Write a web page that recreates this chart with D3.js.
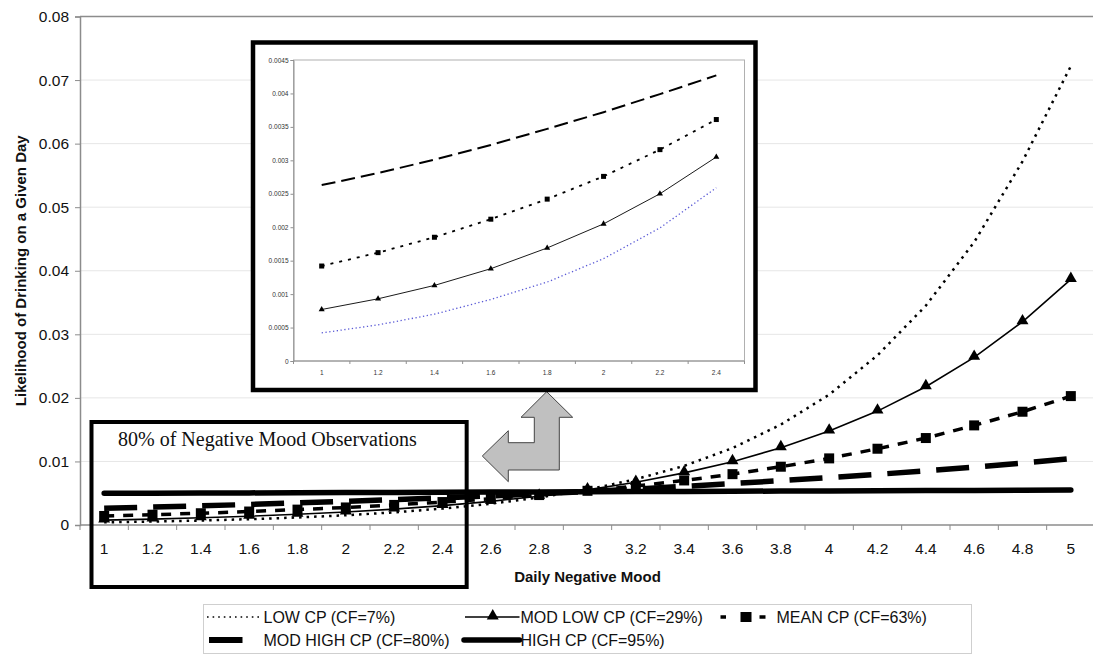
<!DOCTYPE html>
<html>
<head>
<meta charset="utf-8">
<script src="https://cdn.jsdelivr.net/npm/d3@7"></script>
<style>
  html, body { margin: 0; padding: 0; background: #fff; }
  svg { display: block; font-family: "Liberation Sans", Arial, sans-serif; }
</style>
</head>
<body>
<svg id="chart" width="1093" height="654"></svg>
<script>
// ---------------- DATA ----------------
const categories = ["1","1.2","1.4","1.6","1.8","2","2.2","2.4","2.6","2.8","3","3.2","3.4","3.6","3.8","4","4.2","4.4","4.6","4.8","5"];
const lowCP     = [0.00042,0.00054,0.00070,0.00092,0.00118,0.00153,0.00199,0.00259,0.00335,0.00432,0.00557,0.00720,0.00930,0.01210,0.01580,0.02050,0.02670,0.03450,0.04450,0.05720,0.07220];
const modLowCP  = [0.00077,0.00093,0.00113,0.00138,0.00169,0.00205,0.00250,0.00305,0.00372,0.00453,0.00552,0.00672,0.00820,0.00996,0.01215,0.01478,0.01792,0.02175,0.02637,0.03197,0.03863];
const meanCP    = [0.00142,0.00162,0.00185,0.00212,0.00242,0.00276,0.00316,0.00361,0.00412,0.00471,0.00538,0.00614,0.00701,0.00800,0.00917,0.01048,0.01200,0.01368,0.01567,0.01782,0.02028];
const modHighCP = [0.00263,0.00281,0.00301,0.00323,0.00347,0.00372,0.00399,0.00427,0.00458,0.00490,0.00527,0.00566,0.00608,0.00652,0.00698,0.00746,0.00797,0.00852,0.00910,0.00975,0.01045];
const highCP    = [0.00498,0.00500,0.00503,0.00505,0.00508,0.00510,0.00513,0.00515,0.00518,0.00520,0.00523,0.00526,0.00528,0.00531,0.00534,0.00536,0.00539,0.00542,0.00544,0.00547,0.00550];
const yTicks = [0,0.01,0.02,0.03,0.04,0.05,0.06,0.07,0.08];
const yTickLabels = ["0","0.01","0.02","0.03","0.04","0.05","0.06","0.07","0.08"];
const insetCount = 8; // inset shows categories 1 .. 2.4
const insetTicks = [0,0.0005,0.001,0.0015,0.002,0.0025,0.003,0.0035,0.004,0.0045];
const insetTickLabels = ["0","0.0005","0.001","0.0015","0.002","0.0025","0.003","0.0035","0.004","0.0045"];
const seriesNames = ["LOW CP (CF=7%)","MOD LOW CP (CF=29%)","MEAN CP (CF=63%)","MOD HIGH CP (CF=80%)","HIGH CP (CF=95%)"];
const xTitle = "Daily Negative Mood";
const yTitle = "Likelihood of Drinking on a Given Day";
const annotationText = "80% of Negative Mood Observations";

// ---------------- LAYOUT ----------------
const SANS = "'Liberation Sans', Arial, sans-serif";
const SERIF = "'Liberation Serif', 'Times New Roman', serif";
const svg = d3.select("#chart");
const M = {left: 80, right: 1095, top: 16.5, bottom: 525};

const x = d3.scaleBand().domain(categories).range([M.left, M.right]).paddingInner(0).paddingOuter(0);
const xc = d => x(d) + x.bandwidth() / 2;
const y = d3.scaleLinear().domain([0, 0.08]).range([M.bottom, M.top]);

// grid
svg.append("g").selectAll("line").data(yTicks.slice(1)).join("line")
  .attr("x1", M.left).attr("x2", M.right)
  .attr("y1", d => y(d)).attr("y2", d => y(d))
  .attr("stroke", "#e6e6e6").attr("stroke-width", 1);

// plot border (top)
svg.append("line").attr("x1", M.left).attr("x2", M.right).attr("y1", M.top).attr("y2", M.top)
  .attr("stroke", "#8c8c8c").attr("stroke-width", 1.5);

// y axis
const yAxis = d3.axisLeft(y).tickValues(yTicks).tickSize(5).tickFormat((d, i) => yTickLabels[i]);
const gy = svg.append("g").attr("transform", `translate(${M.left},0)`).call(yAxis);
gy.select(".domain").attr("stroke", "#8c8c8c").attr("stroke-width", 1.5);
gy.selectAll(".tick line").attr("stroke", "#8c8c8c");
gy.selectAll(".tick text").attr("x", -11).style("font-size", "15.5px").style("font-family", SANS).attr("fill", "#111");

// x axis (category, ticks at band boundaries)
const gx = svg.append("g").attr("transform", `translate(0,${M.bottom})`);
gx.append("line").attr("x1", M.left).attr("x2", M.right).attr("y1", 0).attr("y2", 0)
  .attr("stroke", "#8c8c8c").attr("stroke-width", 1.5);
gx.selectAll("line.tk").data(categories).join("line").attr("class", "tk")
  .attr("x1", d => x(d)).attr("x2", d => x(d)).attr("y1", 0).attr("y2", 5)
  .attr("stroke", "#8c8c8c");
gx.selectAll("text").data(categories).join("text")
  .attr("x", d => xc(d)).attr("y", 29).attr("text-anchor", "middle")
  .style("font-size", "15.5px").style("font-family", SANS).attr("fill", "#111").text(d => d);

// titles
svg.append("text").attr("x", (M.left + M.right) / 2).attr("y", 582).attr("text-anchor", "middle")
  .style("font-weight", "bold").style("font-size", "15px").style("font-family", SANS).attr("fill", "#111").text(xTitle);
svg.append("text").attr("transform", `translate(26,${(M.top + M.bottom) / 2}) rotate(-90)`)
  .attr("text-anchor", "middle").style("font-weight", "bold").style("font-size", "15px").style("font-family", SANS)
  .attr("fill", "#111").text(yTitle);

// ---------------- SERIES (main) ----------------
const line = d3.line().x((d, i) => xc(categories[i])).y(d => y(d));
const plot = svg.append("g");

plot.append("path").datum(lowCP).attr("d", line).attr("fill", "none")
  .attr("stroke", "#000").attr("stroke-width", 2.5).attr("stroke-dasharray", "2.5,5");
plot.append("path").datum(modLowCP).attr("d", line).attr("fill", "none")
  .attr("stroke", "#000").attr("stroke-width", 1.6);
plot.append("path").datum(meanCP).attr("d", line).attr("fill", "none")
  .attr("stroke", "#000").attr("stroke-width", 3.5).attr("stroke-dasharray", "10,9");
plot.append("path").datum(modHighCP).attr("d", line).attr("fill", "none")
  .attr("stroke", "#000").attr("stroke-width", 5.5).attr("stroke-dasharray", "33,16");
plot.append("path").datum(highCP).attr("d", line).attr("fill", "none")
  .attr("stroke", "#000").attr("stroke-width", 5.5).attr("stroke-linecap", "round");

const tri = d3.symbol().type(d3.symbolTriangle).size(62);
plot.append("g").selectAll("path").data(modLowCP).join("path")
  .attr("transform", (d, i) => `translate(${xc(categories[i])},${y(d) - 1})`)
  .attr("d", tri).attr("fill", "#000");
plot.append("g").selectAll("rect").data(meanCP).join("rect")
  .attr("x", (d, i) => xc(categories[i]) - 5).attr("y", d => y(d) - 5)
  .attr("width", 10).attr("height", 10).attr("fill", "#000");

// ---------------- ANNOTATION BOX ----------------
const annoBox = {x0: x(categories[0]) + 11.5, x1: x(categories[insetCount - 1]) + x.bandwidth(), y0: 422, y1: 587};
svg.append("rect").attr("x", annoBox.x0).attr("y", annoBox.y0)
  .attr("width", annoBox.x1 - annoBox.x0).attr("height", annoBox.y1 - annoBox.y0)
  .attr("fill", "none").attr("stroke", "#000").attr("stroke-width", 4);
svg.append("text").attr("x", 118).attr("y", 446).style("font-family", SERIF)
  .style("font-size", "20px").attr("fill", "#111").text(annotationText);

// ---------------- ARROW ----------------
const arrowPts = [[546.7,391.7],[572.7,417.3],[559.3,417.3],[559.3,470],[508.3,470],[508.3,481.7],[482.3,456],
                  [508.3,430.7],[508.3,442.7],[534.3,442.7],[534.3,417.3],[521,417.3]];
svg.append("path").attr("d", d3.line()(arrowPts) + "Z")
  .attr("fill", "#c0c0c0").attr("stroke", "#444").attr("stroke-width", 1);

// ---------------- INSET ----------------
const IB = {x0: 253, y0: 42.5, x1: 755.5, y1: 390};
svg.append("rect").attr("x", IB.x0).attr("y", IB.y0).attr("width", IB.x1 - IB.x0).attr("height", IB.y1 - IB.y0)
  .attr("fill", "#fff").attr("stroke", "#000").attr("stroke-width", 4.5);

const IP = {left: 293.5, right: 744.5, top: 60, bottom: 361};
const insetCats = categories.slice(0, insetCount);
const xi = d3.scaleBand().domain(insetCats).range([IP.left, IP.right]);
const xic = d => xi(d) + xi.bandwidth() / 2;
const yi = d3.scaleLinear().domain([0, 0.0045]).range([IP.bottom, IP.top]);

svg.append("rect").attr("x", IP.left).attr("y", IP.top).attr("width", IP.right - IP.left).attr("height", IP.bottom - IP.top)
  .attr("fill", "none").attr("stroke", "#b0b0b0").attr("stroke-width", 1);
const gyi = svg.append("g").attr("transform", `translate(${IP.left},0)`)
  .call(d3.axisLeft(yi).tickValues(insetTicks).tickSize(3).tickFormat((d, i) => insetTickLabels[i]));
gyi.select(".domain").attr("stroke", "#909090");
gyi.selectAll(".tick line").attr("stroke", "#909090");
gyi.selectAll(".tick text").attr("x", -5).style("font-size", "6.5px").attr("fill", "#333").style("font-family", SANS);

const gxi = svg.append("g").attr("transform", `translate(0,${IP.bottom})`);
gxi.append("line").attr("x1", IP.left).attr("x2", IP.right).attr("stroke", "#909090");
gxi.selectAll("line.tk").data(insetCats.concat(["end"])).join("line").attr("class", "tk")
  .attr("x1", (d, i) => IP.left + i * xi.bandwidth()).attr("x2", (d, i) => IP.left + i * xi.bandwidth())
  .attr("y1", 0).attr("y2", 3).attr("stroke", "#909090");
gxi.selectAll("text").data(insetCats).join("text")
  .attr("x", d => xic(d)).attr("y", 14).attr("text-anchor", "middle")
  .style("font-size", "6.5px").style("font-family", SANS).attr("fill", "#333").text(d => d);

const lineI = d3.line().x((d, i) => xic(insetCats[i])).y(d => yi(d));
const ins = svg.append("g");
ins.append("path").datum(lowCP.slice(0, insetCount)).attr("d", lineI).attr("fill", "none")
  .attr("stroke", "#5a5ad6").attr("stroke-width", 1.3).attr("stroke-dasharray", "1.3,2.5");
ins.append("path").datum(modLowCP.slice(0, insetCount)).attr("d", lineI).attr("fill", "none")
  .attr("stroke", "#000").attr("stroke-width", 0.9);
ins.append("path").datum(meanCP.slice(0, insetCount)).attr("d", lineI).attr("fill", "none")
  .attr("stroke", "#000").attr("stroke-width", 1.8).attr("stroke-dasharray", "3,6");
ins.append("path").datum(modHighCP.slice(0, insetCount)).attr("d", lineI).attr("fill", "none")
  .attr("stroke", "#000").attr("stroke-width", 2).attr("stroke-dasharray", "14,6");
const triS = d3.symbol().type(d3.symbolTriangle).size(16);
ins.append("g").selectAll("path").data(modLowCP.slice(0, insetCount)).join("path")
  .attr("transform", (d, i) => `translate(${xic(insetCats[i])},${yi(d)})`).attr("d", triS).attr("fill", "#000");
ins.append("g").selectAll("rect").data(meanCP.slice(0, insetCount)).join("rect")
  .attr("x", (d, i) => xic(insetCats[i]) - 2.5).attr("y", d => yi(d) - 2.5)
  .attr("width", 5).attr("height", 5).attr("fill", "#000");

// ---------------- LEGEND ----------------
const lg = svg.append("g");
lg.append("rect").attr("x", 203.5).attr("y", 604.5).attr("width", 768).attr("height", 49)
  .attr("fill", "#fff").attr("stroke", "#cfcfcf");
const legendItems = [
  {name: seriesNames[0], sx: 207, tx: 263.5, row: 0},
  {name: seriesNames[1], sx: 465, tx: 520.5, row: 0},
  {name: seriesNames[2], sx: 720.5, tx: 776.5, row: 0},
  {name: seriesNames[3], sx: 209, tx: 263.5, row: 1},
  {name: seriesNames[4], sx: 464, tx: 520.5, row: 1}
];
const rowY = [617, 640];
legendItems.forEach((it, k) => {
  const cy = rowY[it.row];
  if (k === 0) lg.append("line").attr("x1", it.sx).attr("x2", it.tx - 1).attr("y1", cy).attr("y2", cy)
    .attr("stroke", "#000").attr("stroke-width", 1.6).attr("stroke-dasharray", "1.6,4");
  if (k === 1) {
    lg.append("line").attr("x1", it.sx).attr("x2", it.tx - 1).attr("y1", cy).attr("y2", cy).attr("stroke", "#000").attr("stroke-width", 1.6);
    lg.append("path").attr("transform", `translate(${(it.sx + it.tx) / 2},${cy - 1})`).attr("d", tri).attr("fill", "#000");
  }
  if (k === 2) {
    lg.append("line").attr("x1", it.sx).attr("x2", 765.5).attr("y1", cy).attr("y2", cy)
      .attr("stroke", "#000").attr("stroke-width", 3.5).attr("stroke-dasharray", "5.5,33.5,6");
    lg.append("rect").attr("x", 740.5).attr("y", cy - 5).attr("width", 11).attr("height", 10).attr("fill", "#000");
  }
  if (k === 3) lg.append("line").attr("x1", it.sx).attr("x2", 242.5).attr("y1", cy).attr("y2", cy)
    .attr("stroke", "#000").attr("stroke-width", 6);
  if (k === 4) lg.append("line").attr("x1", it.sx).attr("x2", it.tx - 1).attr("y1", cy).attr("y2", cy)
    .attr("stroke", "#000").attr("stroke-width", 5.5).attr("stroke-linecap", "round");
  lg.append("text").attr("x", it.tx).attr("y", cy + 6).style("font-size", "16px").style("font-family", SANS)
    .attr("fill", "#111").text(it.name);
});
</script>
</body>
</html>
